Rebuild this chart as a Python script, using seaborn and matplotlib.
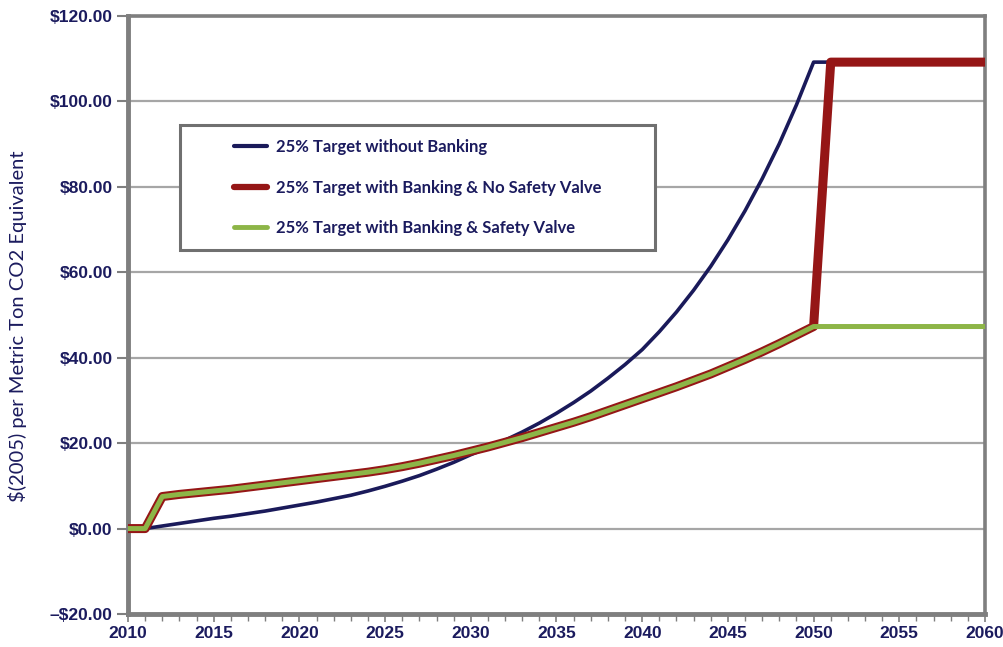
import numpy as np
import pandas as pd
import matplotlib
matplotlib.use("Agg")
import matplotlib.pyplot as plt
import seaborn as sns
from matplotlib.ticker import MultipleLocator, FuncFormatter
from matplotlib.patches import Rectangle

# ---- data ----
years_blue = list(range(2010, 2052))
blue_vals = [0.0, 0.0, 0.6, 1.2, 1.8, 2.4, 2.9, 3.5, 4.1, 4.8,
             5.5, 6.2, 7.0, 7.8, 8.8, 9.9, 11.1, 12.4, 13.9, 15.5,
             17.3, 18.9, 20.7, 22.6, 24.7, 27.0, 29.5, 32.2, 35.2, 38.4,
             41.9, 46.1, 50.7, 55.8, 61.4, 67.6, 74.4, 81.9, 90.1, 99.2,
             109.2, 109.2]

years_bank = list(range(2010, 2061))
bank_common = [0.0, 0.0, 7.5, 8.0, 8.4, 8.8, 9.2, 9.7, 10.2, 10.7,
               11.2, 11.7, 12.2, 12.7, 13.2, 13.8, 14.5, 15.3, 16.2, 17.1,
               18.1, 19.1, 20.2, 21.3, 22.5, 23.7, 24.9, 26.2, 27.6, 29.0,
               30.4, 31.8, 33.2, 34.7, 36.2, 37.9, 39.6, 41.4, 43.3, 45.3,
               47.3]
red_tail = [109.2] * 10
green_tail = [47.3] * 10
red_vals = bank_common + red_tail
green_vals = bank_common + green_tail

labels = ["25% Target without Banking",
          "25% Target with Banking & No Safety Valve",
          "25% Target with Banking & Safety Valve"]
ytick_vals = [-20, 0, 20, 40, 60, 80, 100, 120]
xtick_vals = [2010, 2015, 2020, 2025, 2030, 2035, 2040, 2045, 2050, 2055, 2060]

df_blue = pd.DataFrame({"year": years_blue, "price": blue_vals})
df_red = pd.DataFrame({"year": years_bank, "price": red_vals})
df_green = pd.DataFrame({"year": years_bank, "price": green_vals})

# ---- style ----
sns.set_theme(style="white")
plt.rcParams["font.family"] = ["Liberation Sans", "DejaVu Sans"]

NAVY = "#1b1b5e"
BLUE = "#1a1a5a"
RED = "#951616"
GREEN = "#8db547"
GRID = "#a6a6a6"
SPINE = "#7f7f7f"

W, H = 1004, 647
AX_L, AX_R, AX_T, AX_B = 128, 985, 16, 614
fig = plt.figure(figsize=(W / 100, H / 100), dpi=100)
ax = fig.add_axes([AX_L / W, 1 - AX_B / H, (AX_R - AX_L) / W, (AX_B - AX_T) / H])

ax.yaxis.grid(True, color=GRID, linewidth=1.6)
ax.set_axisbelow(True)

sns.lineplot(data=df_blue, x="year", y="price", ax=ax, color=BLUE,
             linewidth=2.6, label=labels[0], zorder=3)
sns.lineplot(data=df_red, x="year", y="price", ax=ax, color=RED,
             linewidth=6.5, label=labels[1], zorder=4)
sns.lineplot(data=df_green, x="year", y="price", ax=ax, color=GREEN,
             linewidth=3.6, label=labels[2], zorder=5)

ax.set_xlim(2010, 2060)
ax.set_ylim(-20, 120)
ax.set_xticks(xtick_vals)
ax.xaxis.set_minor_locator(MultipleLocator(1))
ax.set_yticks(ytick_vals)

def yfmt(v, pos):
    if v < 0:
        return "\u2013$%.2f" % abs(v)
    return "$%.2f" % v
ax.yaxis.set_major_formatter(FuncFormatter(yfmt))

for s in ["left", "bottom"]:
    ax.spines[s].set_color(SPINE)
    ax.spines[s].set_linewidth(3.5)
for s in ["top", "right"]:
    ax.spines[s].set_color(SPINE)
    ax.spines[s].set_linewidth(2.6)

ax.tick_params(axis="y", which="major", direction="out", length=8, width=1.5,
               color=SPINE, left=True, labelsize=12.5, labelcolor=NAVY, pad=3)
ax.tick_params(axis="x", which="major", direction="out", length=6, width=1.2,
               color=SPINE, bottom=True, labelsize=12.5, labelcolor=NAVY, pad=3)
ax.tick_params(axis="x", which="minor", direction="out", length=5, width=1.0,
               color=SPINE, bottom=True)
for lab in ax.get_xticklabels() + ax.get_yticklabels():
    lab.set_fontweight("bold")

ax.set_xlabel("")
ax.set_ylabel("$(2005) per Metric Ton CO2 Equivalent", color=NAVY,
              fontsize=14.5, family=["Lato", "DejaVu Sans"])
ax.yaxis.set_label_coords((27 - AX_L) / (AX_R - AX_L),
                          1 - (326 - AX_T) / (AX_B - AX_T))

# legend (frame drawn separately to match the wide left padding)
leg = ax.legend(loc="upper left", bbox_to_anchor=(234 / W, 1 - 139 / H),
                bbox_transform=fig.transFigure,
                frameon=False, fontsize=12,
                handlelength=2.0, handletextpad=0.55, labelspacing=1.48,
                borderpad=0, borderaxespad=0)
lw = [3.0, 4.5, 3.5]
for h, w in zip(leg.get_lines(), lw):
    h.set_linewidth(w)
for t in leg.get_texts():
    t.set_color(NAVY)
    t.set_fontweight("bold")
    t.set_family(["Lato", "DejaVu Sans"])
leg.set_zorder(10)

box = Rectangle((180 / W, 1 - 250 / H), 475 / W, 125 / H,
                transform=fig.transFigure, facecolor="white",
                edgecolor="#707070", linewidth=2.2, zorder=9)
ax.add_patch(box)
box.set_clip_on(False)

fig.savefig("out.png", dpi=100)
